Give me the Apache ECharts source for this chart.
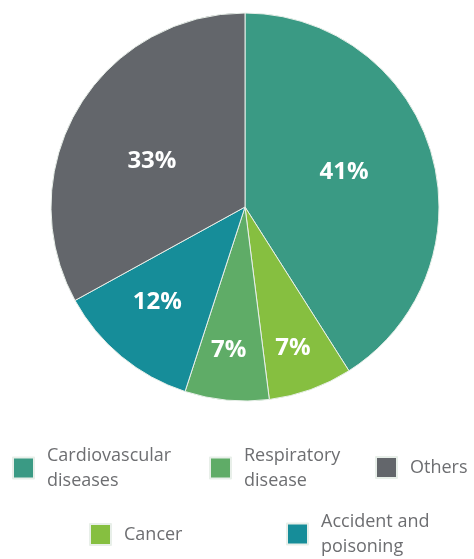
<!DOCTYPE html>
<html><head><meta charset="utf-8">
<script src="https://cdn.jsdelivr.net/npm/echarts@6/dist/echarts.min.js"></script>
<style>html,body{margin:0;padding:0;background:#fff}#c{width:474px;height:559px}</style>
</head><body><div id="c"></div>
<script>
var categories = ['Cardiovascular\ndiseases', 'Cancer', 'Respiratory\ndisease', 'Accident and\npoisoning', 'Others'];
var values = [41, 7, 7, 12, 33];
var colors = ['#3a9a84', '#86bf40', '#5fac67', '#168d99', '#63666b'];
var labelOffsets = [[3, -7], [14, 47], [-7, 44], [-24, 18], [-7, 5]];

var chart = echarts.init(document.getElementById('c'));
var legendBase = {
  orient: 'horizontal', itemWidth: 21, itemHeight: 21, icon: 'rect', itemGap: 0,
  textStyle: { color: '#6d6e71', fontSize: 18, fontFamily: 'Open Sans', lineHeight: 25, padding: [0, 0, 0, 8] },
  selectedMode: false
};
function leg(name, left, top) {
  return Object.assign({}, legendBase, { data: [name], left: left, top: top });
}
chart.setOption({
  animation: false,
  legend: [
    leg(categories[0], 7, 438),
    leg(categories[2], 204, 438),
    leg(categories[4], 370, 450),
    leg(categories[1], 84, 517),
    leg(categories[3], 281, 504)
  ],
  series: [{
    type: 'pie',
    center: [245, 207],
    radius: 194,
    startAngle: 90,
    clockwise: true,
    itemStyle: { borderColor: '#e8efe9', borderWidth: 1 },
    label: {
      show: true, position: 'inside', formatter: '{c}%',
      color: '#fff', fontSize: 24, fontWeight: 'bold', fontFamily: 'Open Sans'
    },
    labelLine: { show: false },
    data: categories.map(function (n, i) {
      return { name: n, value: values[i], itemStyle: { color: colors[i] }, label: { offset: labelOffsets[i] } };
    })
  }]
});
</script></body></html>
